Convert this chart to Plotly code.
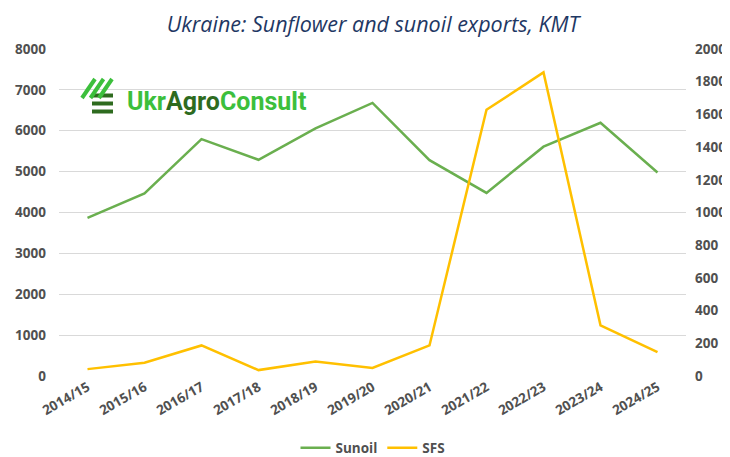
import plotly.graph_objects as go

seasons = ["2014/15", "2015/16", "2016/17", "2017/18", "2018/19", "2019/20",
           "2020/21", "2021/22", "2022/23", "2023/24", "2024/25"]
sunoil = [3870, 4465, 5795, 5290, 6060, 6680, 5280, 4480, 5610, 6195, 4980]
sfs = [42, 81, 187, 36, 89, 49, 187, 1628, 1857, 310, 146]

left_ticks = list(range(0, 8001, 1000))
right_ticks = list(range(0, 2001, 200))

# page places the figure 8px from the top-left corner of the window
OFF = 8
W, H = 730, 457
# plot area in window pixels: x 59..686, y 49..376
L = 59 - OFF
T = 49 - OFF
pw = 686 - 59
ph = 376 - 49
R = W - L - pw
B = H - T - ph

def px(x):
    return (x - OFF - L) / pw

def py(y):
    return (T + ph - (y - OFF)) / ph

fig = go.Figure()
fig.add_trace(go.Scatter(x=seasons, y=sunoil, name="Sunoil", mode="lines",
                         line=dict(color="#6AAF4F", width=2.5), yaxis="y"))
fig.add_trace(go.Scatter(x=seasons, y=sfs, name="SFS", mode="lines",
                         line=dict(color="#FFC000", width=2.5), yaxis="y2"))

tickfont = dict(family="Open Sans", size=13.5, color="#505050", weight="bold")

shapes = []
bright = "#3CBF3C"
dark = "#2E6B1F"
# horizontal bars of the logo
for yb in [95.5, 103.5, 111.5]:
    shapes.append(dict(type="line", xref="paper", yref="paper",
                       x0=px(92), y0=py(yb), x1=px(113), y1=py(yb),
                       line=dict(color=dark, width=4)))
# diagonal stripes of the logo
for i in range(3):
    xb = 82 + i * 8.5
    shapes.append(dict(type="line", xref="paper", yref="paper",
                       x0=px(xb), y0=py(98), x1=px(xb + 13), y1=py(79),
                       line=dict(color=bright, width=4)))

fig.update_layout(
    width=W, height=H,
    margin=dict(l=L, r=R, t=T, b=B, autoexpand=False),
    paper_bgcolor="white", plot_bgcolor="white",
    title=dict(text="Ukraine: Sunflower and sunoil exports, KMT",
               x=px(373), xanchor="center", xref="paper",
               y=1 - (24 - OFF) / H, yanchor="middle",
               font=dict(family="Open Sans", size=21.5, color="#1F3864", style="italic")),
    xaxis=dict(type="category", range=[-0.5, 10.5], tickangle=-30, automargin=False,
               tickfont=tickfont, showgrid=False, showline=False, ticks=""),
    yaxis=dict(range=[0, 8000], tickvals=left_ticks, tickfont=tickfont, automargin=False,
               showgrid=True, gridcolor="#D9D9D9", gridwidth=1,
               zeroline=False, showline=False, ticklabelstandoff=12),
    yaxis2=dict(range=[0, 2000], tickvals=right_ticks, tickfont=tickfont, automargin=False,
                overlaying="y", side="right", showgrid=False, zeroline=False,
                showline=False, ticklabelstandoff=8),
    legend=dict(orientation="h", x=px(373), xanchor="center", y=py(448), yanchor="middle",
                font=dict(family="Open Sans", size=13.5, color="#505050", weight="bold"),
                itemwidth=30),
    shapes=shapes,
    annotations=[dict(
        text="<span style='color:#3CBF3C'>Ukr</span><span style='color:#2E6B1F'>Agro</span><span style='color:#3CBF3C'>Consult</span>",
        xref="paper", yref="paper", x=px(125), y=py(101), xanchor="left", yanchor="middle",
        showarrow=False, font=dict(family="Roboto", size=25, weight="bold"))],
)

fig.write_html("out.html")
